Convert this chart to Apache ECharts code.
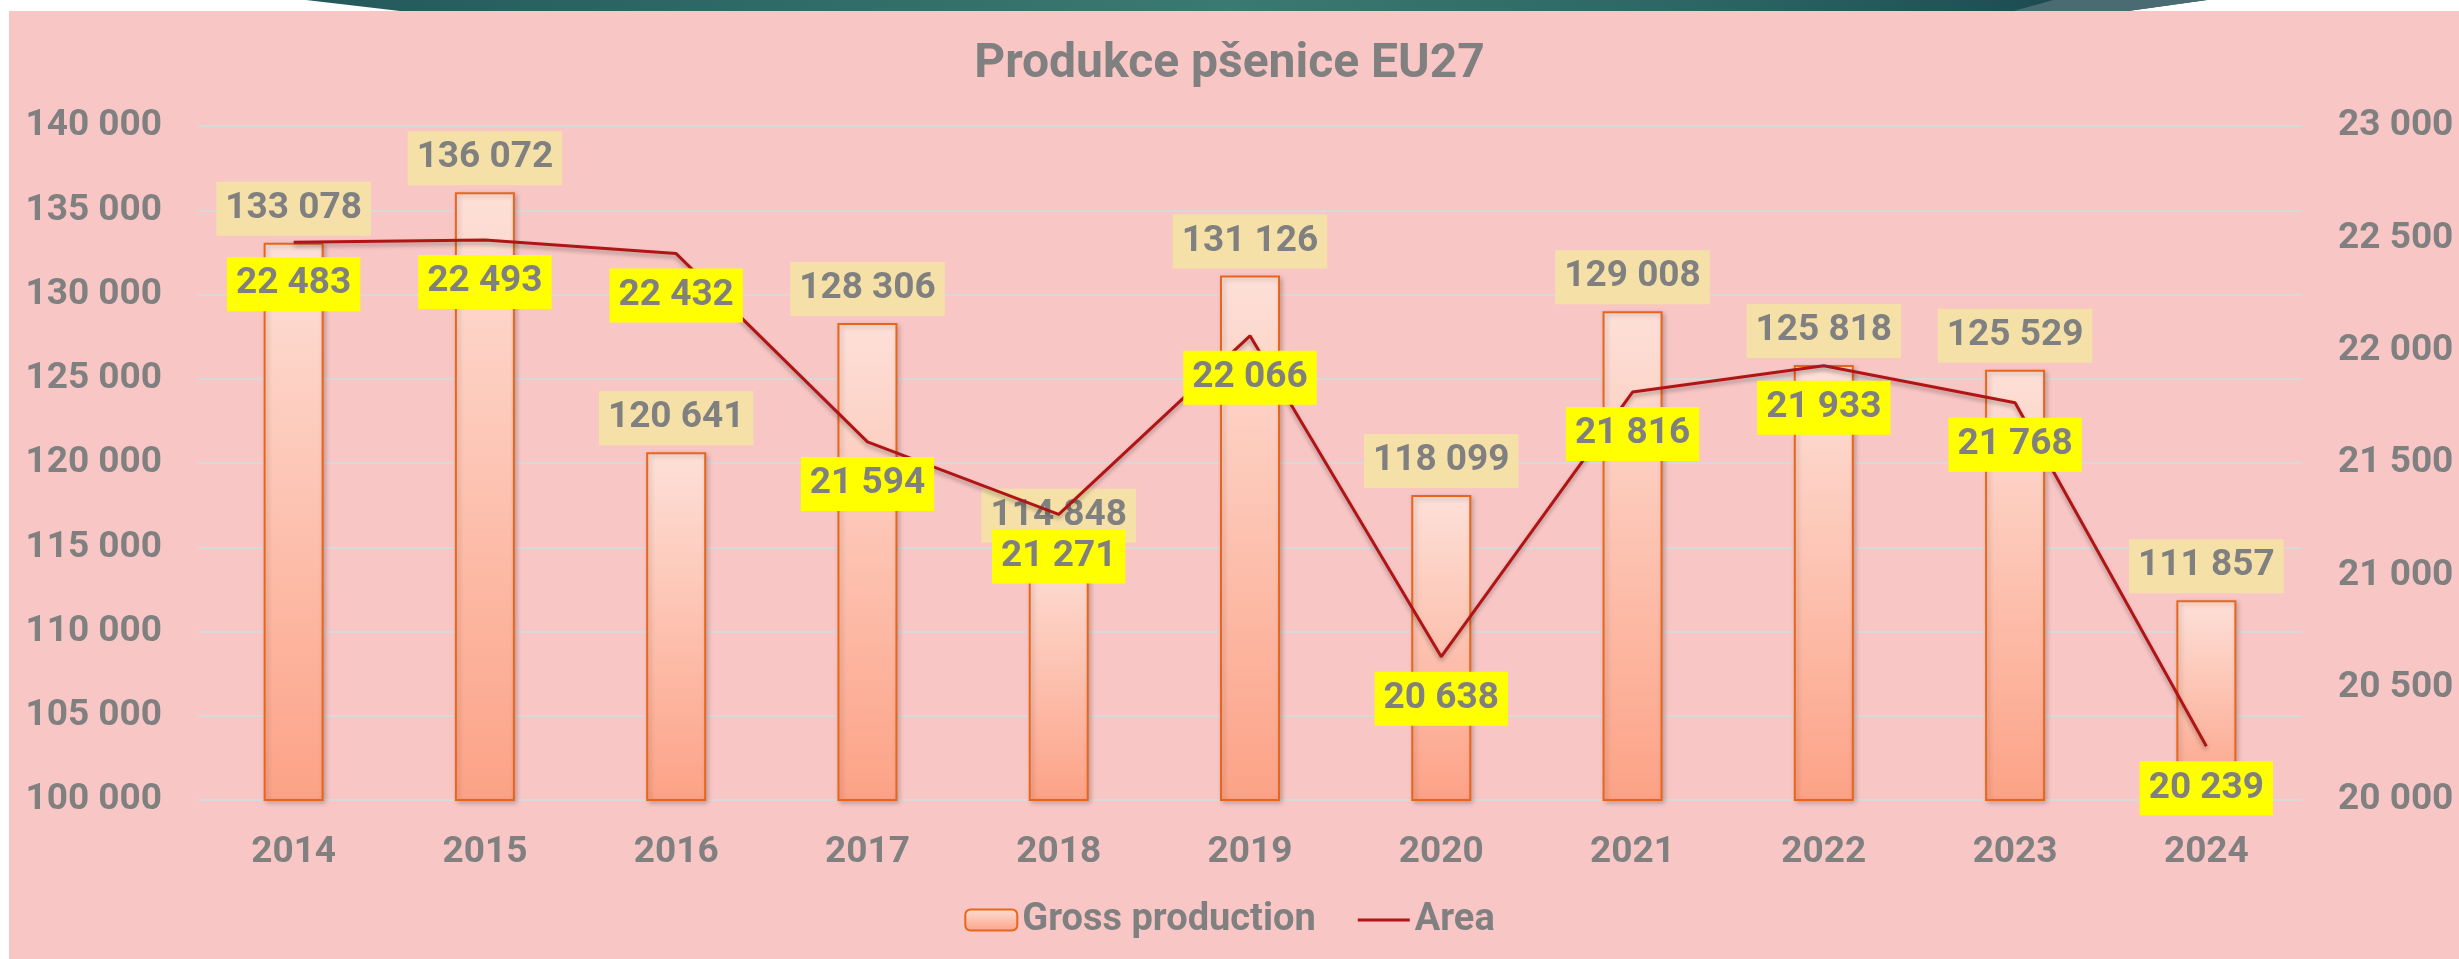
<!DOCTYPE html>
<html lang="cs">
<head>
    <meta charset="UTF-8">
    <title>Produkce pšenice EU27</title>
    <script src="https://cdn.jsdelivr.net/npm/echarts@6/dist/echarts.min.js"></script>
    <style>
        * { margin: 0; padding: 0; box-sizing: border-box; }
        html, body { width: 2459px; height: 959px; background: #fff; overflow: hidden; }
        .banner {
            position: absolute; left: 0; top: 0; width: 2459px; height: 11px;
            background: linear-gradient(90deg, #1d4c53 0%, #2f6966 30%, #3b7a70 50%, #2c6463 70%, #1b4950 85%);
            clip-path: polygon(306px 0, 2207px 0, 2128px 11px, 400px 11px);
        }
        .banner2 {
            position: absolute; left: 0; top: 0; width: 2459px; height: 11px;
            background: #4b6b72;
            clip-path: polygon(2053px 0, 2207px 0, 2128px 11px, 2014px 11px);
        }
        .panel {
            position: absolute; left: 9px; top: 11px; width: 2450px; height: 948px;
            background: #f8c6c5;
        }
        #main { position: absolute; left: 0; top: 0; width: 2459px; height: 959px; }
    </style>
</head>
<body>
    <div class="banner"></div>
    <div class="banner2"></div>
    <div class="panel"></div>
    <div id="main"></div>

    <script>
        // data
        const years = ['2014', '2015', '2016', '2017', '2018', '2019', '2020', '2021', '2022', '2023', '2024'];
        const grossProduction = [133078, 136072, 120641, 128306, 114848, 131126, 118099, 129008, 125818, 125529, 111857];
        const area = [22483, 22493, 22432, 21594, 21271, 22066, 20638, 21816, 21933, 21768, 20239];

        const grey = '#808080';
        const font = 'Roboto, "Liberation Sans", sans-serif';

        function fmt(v) {
            return String(v).replace(/\B(?=(\d{3})+(?!\d))/g, ' ');
        }

        var myChart = echarts.init(document.getElementById('main'));

        var option = {
            backgroundColor: 'transparent',
            animation: false,
            textStyle: { fontFamily: font },
            title: {
                text: 'Produkce pšenice EU27',
                left: 'center',
                top: 36,
                textStyle: { fontSize: 48, fontWeight: 'bold', color: grey, fontFamily: font }
            },
            legend: {
                top: 896,
                left: 'center',
                itemWidth: 52,
                itemHeight: 21,
                itemGap: 42,
                textStyle: { fontSize: 38, fontWeight: 'bold', color: grey, fontFamily: font },
                data: [
                    { name: 'Gross production' },
                    { name: 'Area', icon: 'path://M0,0H56V3H0Z' }
                ]
            },
            grid: {
                left: 198,
                right: 157,
                top: 126,
                bottom: 159,
                containLabel: false
            },
            xAxis: {
                type: 'category',
                data: years,
                axisLine: { show: false },
                axisTick: { show: false },
                axisLabel: {
                    margin: 34,
                    fontSize: 37,
                    fontWeight: 'bold',
                    color: grey,
                    fontFamily: font
                }
            },
            yAxis: [
                {
                    type: 'value',
                    min: 100000,
                    max: 140000,
                    interval: 5000,
                    axisLine: { show: false },
                    axisTick: { show: false },
                    splitLine: { lineStyle: { color: '#d9d9d9', width: 2 } },
                    axisLabel: {
                        margin: 36,
                        fontSize: 37,
                        fontWeight: 'bold',
                        color: grey,
                        fontFamily: font,
                        formatter: fmt
                    }
                },
                {
                    type: 'value',
                    min: 20000,
                    max: 23000,
                    interval: 500,
                    axisLine: { show: false },
                    axisTick: { show: false },
                    splitLine: { show: false },
                    axisLabel: {
                        margin: 36,
                        fontSize: 37,
                        fontWeight: 'bold',
                        color: grey,
                        fontFamily: font,
                        formatter: fmt
                    }
                }
            ],
            series: [
                {
                    name: 'Gross production',
                    type: 'bar',
                    data: grossProduction,
                    barWidth: 60,
                    itemStyle: {
                        color: new echarts.graphic.LinearGradient(0, 0, 0, 1, [
                            { offset: 0, color: '#fde0d8' },
                            { offset: 1, color: '#fca286' }
                        ]),
                        borderColor: '#e8661c',
                        borderWidth: 2,
                        shadowBlur: 5,
                        shadowOffsetX: 2,
                        shadowOffsetY: 2,
                        shadowColor: 'rgba(0,0,0,0.22)'
                    },
                    label: {
                        show: true,
                        position: 'top',
                        distance: 7,
                        formatter: function (p) { return fmt(p.value); },
                        backgroundColor: '#f5e1a8',
                        padding: [7, 9],
                        lineHeight: 40,
                        fontSize: 37,
                        fontWeight: 'bold',
                        color: grey,
                        fontFamily: font
                    }
                },
                {
                    name: 'Area',
                    type: 'line',
                    yAxisIndex: 1,
                    data: area,
                    symbol: 'circle',
                    symbolSize: 0,
                    showSymbol: true,
                    lineStyle: {
                        color: '#b01414',
                        width: 3,
                        shadowBlur: 4,
                        shadowOffsetY: 3,
                        shadowColor: 'rgba(0,0,0,0.3)'
                    },
                    itemStyle: { color: '#b01414' },
                    label: {
                        show: true,
                        position: 'bottom',
                        distance: 15,
                        formatter: function (p) { return fmt(p.value); },
                        backgroundColor: '#ffff00',
                        padding: [7, 9],
                        lineHeight: 40,
                        fontSize: 37,
                        fontWeight: 'bold',
                        color: grey,
                        fontFamily: font
                    }
                }
            ]
        };

        myChart.setOption(option);
    </script>
</body>
</html>
